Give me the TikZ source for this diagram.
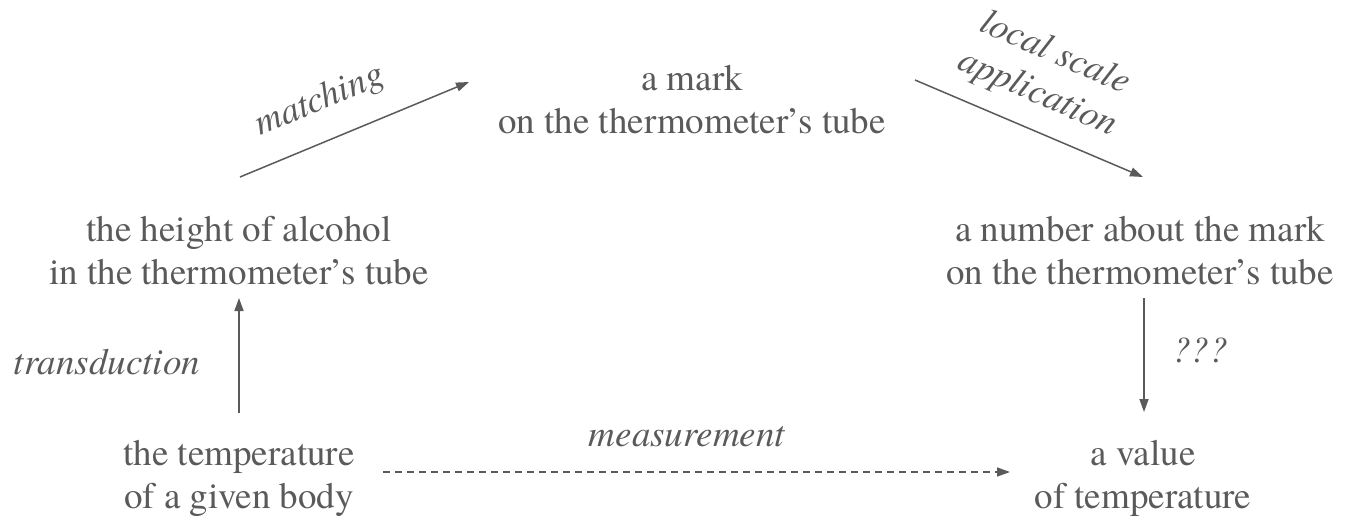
\documentclass[tikz,border=0pt]{standalone}
\usepackage{fontspec}
\setmainfont{texgyretermes}[Extension=.otf,UprightFont=*-regular,ItalicFont=*-italic,BoldFont=*-bold,BoldItalicFont=*-bolditalic]
\usetikzlibrary{arrows.meta,calc}
\definecolor{tg}{HTML}{5A5A5A}
\begin{document}
\begin{tikzpicture}[x=1pt,y=-1pt,
  box/.style={align=center,font=\fontsize{37}{43}\selectfont,inner sep=0pt,text=tg},
  lab/.style={font=\fontsize{37}{44}\selectfont\itshape,inner sep=0pt,text=tg,align=center},
  arr/.style={draw=tg,line width=1.5pt,-{Triangle[length=13pt,width=9pt]}},
  darr/.style={arr,dash pattern=on 7pt off 5pt}]
\useasboundingbox (0,0) rectangle (1349,519);
\node[box] (m) at (692,100) {a mark\\on the thermometer’s tube};
\node[box] (h) at (239,251) {the height of alcohol\\in the thermometer’s tube};
\node[box] (n) at (1140,251) {a number about the mark\\on the thermometer’s tube};
\node[box] (t) at (239,478) {the temperature\\of a given body};
\node[box] (v) at (1143,478) {a value\\of temperature};
\draw[arr] ($(h.center)+(1,-74)$) -- ($(m.center)+(-223,-18)$);
\draw[arr] ($(m.center)+(223,-20)$) -- ($(n.center)+(3,-74)$);
\draw[arr] ($(t.center)+(0,-65)$) -- ($(h.center)+(0,47)$);
\draw[arr] ($(n.center)+(4,47)$) -- ($(v.center)+(1,-66)$);
\draw[darr] ($(t.center)+(144,-6)$) -- ($(v.center)+(-133,-6)$);
\node[lab,rotate=22.7] (lm) at (320,101) {matching};
\node[lab,rotate=-23.5] (ll) at (1046,74) {local scale\\application};
\node[lab] (lt) at (107,362) {transduction};
\node[lab] (lq) at (1200,350) {???};
\node[lab] (lme) at (687,437) {measurement};
\end{tikzpicture}
\end{document}
